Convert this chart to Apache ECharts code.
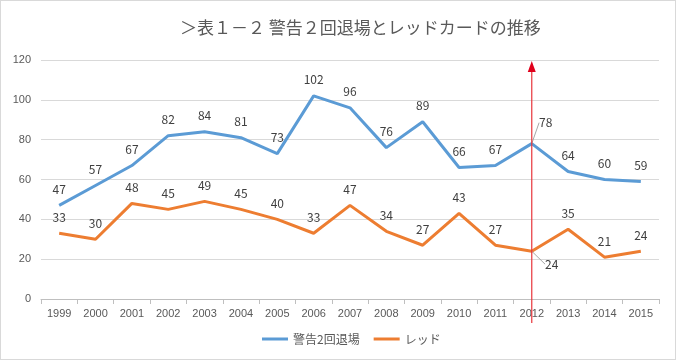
<!DOCTYPE html>
<html><head><meta charset="utf-8">
<script src="https://cdn.jsdelivr.net/npm/echarts@6/dist/echarts.min.js"></script>
<style>html,body{margin:0;padding:0;background:#fff}#c{width:674px;height:358px;border:1px solid #d9d9d9}</style>
</head><body><div id="c"></div>
<script>
const years = ['1999','2000','2001','2002','2003','2004','2005','2006','2007','2008','2009','2010','2011','2012','2013','2014','2015'];
const warn2 = [47,57,67,82,84,81,73,102,96,76,89,66,67,78,64,60,59];
const red = [33,30,48,45,49,45,40,33,47,34,27,43,27,24,35,21,24];
const markYear = '2012';
const markIdx = years.indexOf(markYear);
const chart = echarts.init(document.getElementById('c'));
const lbl = {show:true, position:'top', distance:10, color:'#404040', fontSize:12, fontFamily:'Noto Sans CJK JP'};
function items(arr){ return arr.map((v,i)=> i===markIdx ? {value:v, labelLine:{show:true, lineStyle:{color:'#a6a6a6', width:1}}} : v); }
chart.setOption({
  animation:false,
  title:{text:'＞表１－２ 警告２回退場とレッドカードの推移', left:174, top:13, textStyle:{fontSize:17, fontWeight:'normal', color:'#595959', fontFamily:'Noto Sans CJK JP'}},
  grid:{left:40, right:16, top:59, bottom:60},
  legend:{bottom:9, left:256, itemWidth:26, itemHeight:3, itemGap:14, icon:'rect', textStyle:{color:'#595959', fontSize:12, fontFamily:'Noto Sans CJK JP'}, data:['警告2回退場','レッド']},
  xAxis:{type:'category', data:years, boundaryGap:true,
    axisLine:{lineStyle:{color:'#bfbfbf'}}, axisTick:{show:true, lineStyle:{color:'#bfbfbf'}},
    axisLabel:{color:'#595959', fontSize:11, fontFamily:'Liberation Sans', margin:9}},
  yAxis:{type:'value', min:0, max:120, interval:20,
    axisLine:{show:false}, axisTick:{show:false},
    splitLine:{lineStyle:{color:'#d9d9d9'}},
    axisLabel:{color:'#595959', fontSize:11, fontFamily:'Liberation Sans', margin:10}},
  series:[
    {name:'警告2回退場', type:'line', data:items(warn2), symbol:'circle', symbolSize:0, showSymbol:true, lineStyle:{width:3, color:'#5b9bd5'}, itemStyle:{color:'#5b9bd5'},
      label:lbl,
      labelLine:{show:false},
      labelLayout:function(p){ return p.dataIndex===markIdx ? {dx:14, dy:-5} : {}; }},
    {name:'レッド', type:'line', data:items(red), symbol:'circle', symbolSize:0, showSymbol:true, lineStyle:{width:3, color:'#ed7d31'}, itemStyle:{color:'#ed7d31'},
      label:lbl,
      labelLine:{show:false},
      labelLayout:function(p){ return p.dataIndex===markIdx ? {dx:20, dy:29} : {}; }}
  ]
});
const pTop = chart.convertToPixel({xAxisIndex:0, yAxisIndex:0}, [markYear, 118]);
const pBot = chart.convertToPixel({xAxisIndex:0, yAxisIndex:0}, [markYear, -12]);
chart.setOption({graphic:[
  {type:'line', shape:{x1:pTop[0], y1:pTop[1]+6, x2:pBot[0], y2:pBot[1]}, style:{stroke:'#e8343a', lineWidth:1.2}, z:100},
  {type:'polygon', shape:{points:[[pTop[0], pTop[1]-3],[pTop[0]-4, pTop[1]+8],[pTop[0]+4, pTop[1]+8]]}, style:{fill:'#e0001b'}, z:100}
]});
</script></body></html>
